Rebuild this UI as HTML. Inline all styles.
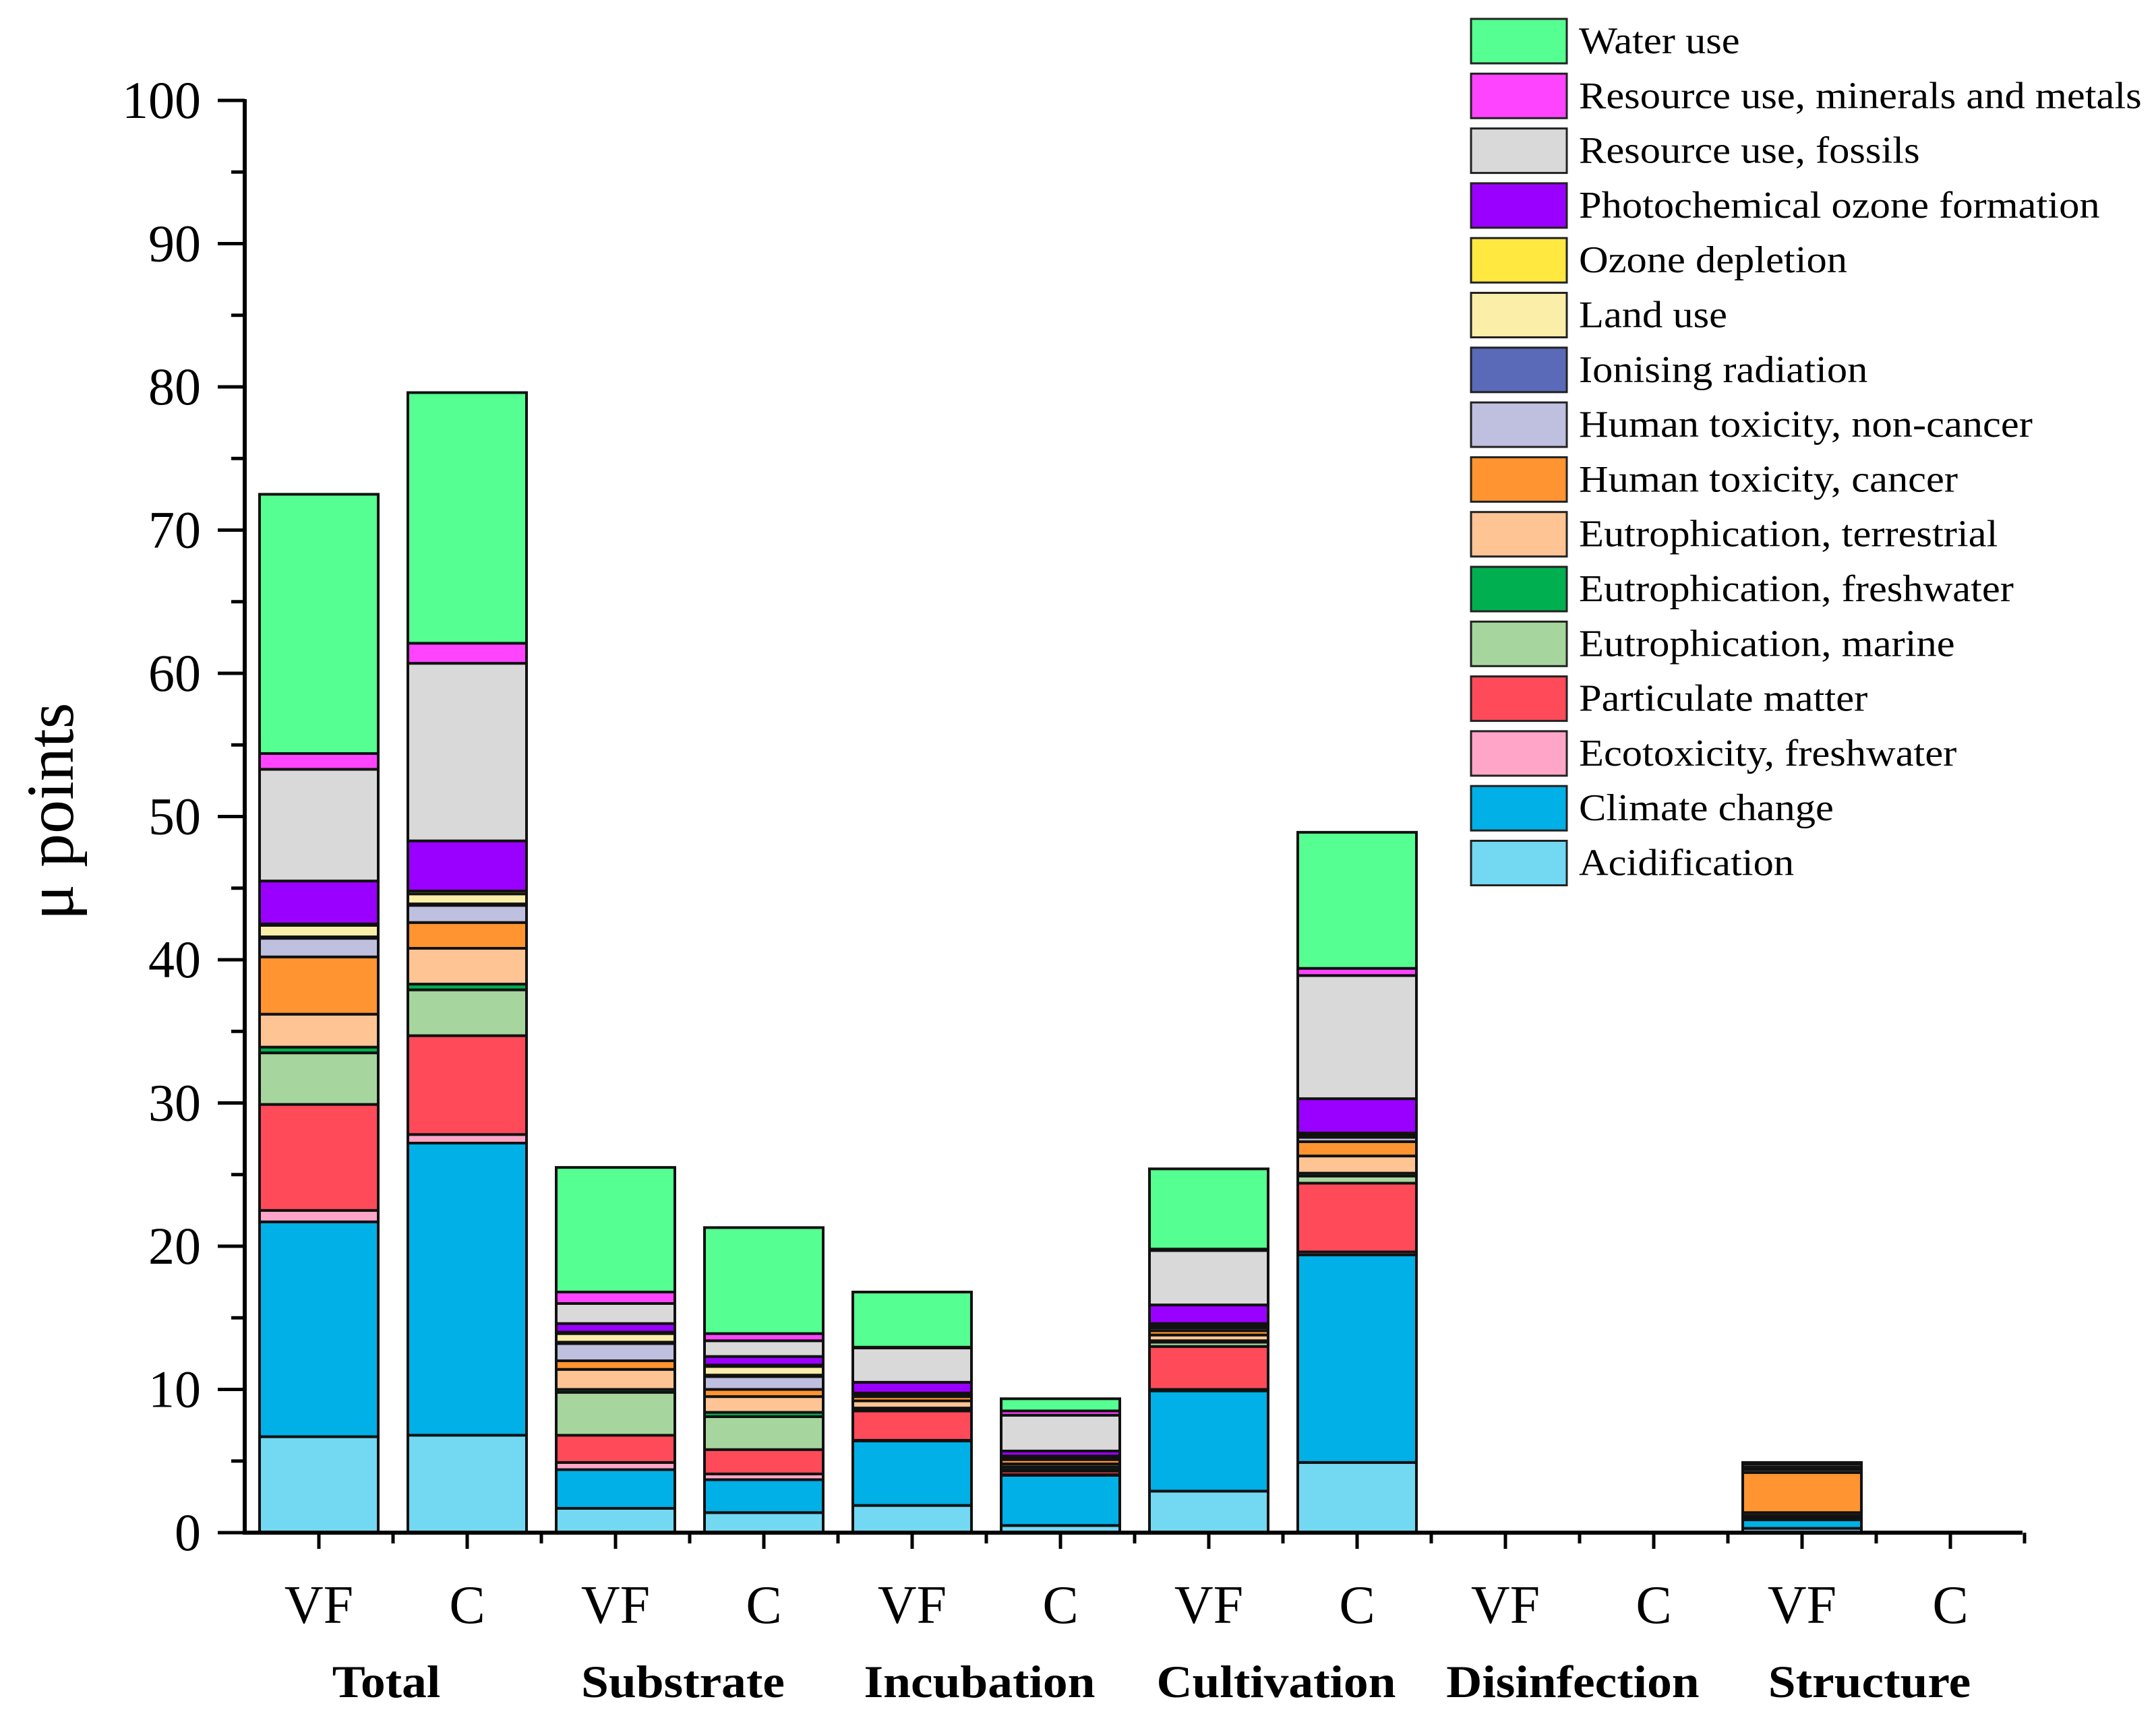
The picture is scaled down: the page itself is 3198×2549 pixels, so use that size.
<!DOCTYPE html>
<html><head><meta charset="utf-8"><style>
html,body{margin:0;padding:0;background:#fff}
svg{display:block;font-family:"Liberation Serif",serif}
</style></head><body>
<svg id="chart" width="3198" height="2549" viewBox="0 0 3198 2549" xmlns="http://www.w3.org/2000/svg">
<g id="bars"></g>
<g id="axes"></g>
<g id="legend"></g>
<text transform="translate(108,1204) rotate(-90)" text-anchor="middle" font-size="100">μ points</text>
</svg>
<script>
const barLabels = ["VF","C","VF","C","VF","C","VF","C","VF","C","VF","C"];
const groupLabels = ["Total","Substrate","Incubation","Cultivation","Disinfection","Structure"];
const yTicks = [0,10,20,30,40,50,60,70,80,90,100];
const seriesNames = ["Acidification","Climate change","Ecotoxicity, freshwater","Particulate matter","Eutrophication, marine","Eutrophication, freshwater","Eutrophication, terrestrial","Human toxicity, cancer","Human toxicity, non-cancer","Ionising radiation","Land use","Ozone depletion","Photochemical ozone formation","Resource use, fossils","Resource use, minerals and metals","Water use"];
const acidification = [6.7,6.8,1.7,1.4,1.9,0.5,2.9,4.9,0,0,0.3,0];
const climateChange = [15.0,20.4,2.7,2.3,4.5,3.5,7.0,14.5,0,0,0.6,0];
const ecotoxicity = [0.8,0.6,0.5,0.4,0.05,0.05,0.1,0.2,0,0,0.05,0];
const particulate = [7.4,6.9,1.9,1.7,2.05,0.25,3.0,4.8,0,0,0.15,0];
const eutroMarine = [3.6,3.2,3.0,2.3,0.1,0.1,0.3,0.5,0,0,0.05,0];
const eutroFresh = [0.4,0.4,0.2,0.3,0.1,0.2,0.1,0.2,0,0,0.05,0];
const eutroTerrestrial = [2.3,2.5,1.4,1.1,0.5,0.2,0.4,1.2,0,0,0.2,0];
const humanCancer = [4.0,1.8,0.6,0.5,0.3,0.3,0.3,1.0,0,0,2.8,0];
const humanNonCancer = [1.3,1.2,1.2,0.9,0.1,0.1,0.2,0.3,0,0,0.2,0];
const ionising = [0.1,0.1,0.1,0.1,0.05,0.05,0.1,0.1,0,0,0.05,0];
const landUse = [0.8,0.7,0.6,0.6,0.05,0.05,0.1,0.1,0,0,0.05,0];
const ozoneDepletion = [0.1,0.2,0.1,0.1,0.05,0.05,0.1,0.1,0,0,0.05,0];
const photochemical = [3.0,3.5,0.6,0.6,0.75,0.35,1.3,2.4,0,0,0.05,0];
const resourceFossils = [7.8,12.4,1.4,1.1,2.4,2.5,3.8,8.6,0,0,0.2,0];
const resourceMinerals = [1.1,1.4,0.8,0.5,0.05,0.3,0.1,0.5,0,0,0.05,0];
const waterUse = [18.1,17.5,8.7,7.4,3.85,0.85,5.6,9.5,0,0,0.05,0];
const series = [acidification,climateChange,ecotoxicity,particulate,eutroMarine,eutroFresh,eutroTerrestrial,humanCancer,humanNonCancer,ionising,landUse,ozoneDepletion,photochemical,resourceFossils,resourceMinerals,waterUse];
const colors = ["#73d8f2","#00b0e6","#ffa6c8","#ff4a5a","#a6d69e","#00b050","#ffc494","#ff9430","#bfbfe0","#5a6ab8","#faeea8","#ffe840","#9900ff","#d9d9d9","#ff44ff","#55ff91"];

const NS="http://www.w3.org/2000/svg";
const X0=363, X1=3000, Y0=2274, Y100=149;
const yScale=v=>Y0-(v/100)*(Y0-Y100);
const step=220, firstC=473, barW=176;
const xC=i=>firstC+i*step;
function mk(tag,attrs,parent){const e=document.createElementNS(NS,tag);for(const k in attrs)e.setAttribute(k,attrs[k]);parent.appendChild(e);return e;}
function widen(t,f){const w=t.getComputedTextLength();t.setAttribute('textLength',w*f);t.setAttribute('lengthAdjust','spacingAndGlyphs');}
const gb=document.getElementById('bars'), ga=document.getElementById('axes'), gl=document.getElementById('legend');
const slugs=seriesNames.map(s=>s.toLowerCase().replace(/[^a-z]+/g,'-').replace(/-$/,''));
for(let i=0;i<barLabels.length;i++){
  let cum=0;
  for(let s=0;s<series.length;s++){
    const v=series[s][i]; if(!(v>0)) continue;
    const yt=yScale(cum+v), yb=yScale(cum);
    const r=mk('rect',{x:xC(i)-barW/2,y:yt,width:barW,height:yb-yt,fill:colors[s],stroke:'#111','stroke-width':4},gb);
    
    
    cum+=v;
  }
}
const yl=mk('line',{x1:X0,y1:Y0+2,x2:X0,y2:Y100-2,stroke:'#000','stroke-width':6},ga);
 
const xl=mk('line',{x1:X0-3,y1:Y0,x2:X1,y2:Y0,stroke:'#000','stroke-width':6},ga);
 
for(let v=0;v<=100;v+=5){
  const maj=v%10===0;
  const t=mk('line',{x1:X0-(maj?40:20),y1:yScale(v),x2:X0,y2:yScale(v),stroke:'#000','stroke-width':5},ga);
   
}
yTicks.forEach(v=>{
  const t=mk('text',{x:298,y:yScale(v)+26,'text-anchor':'end','font-size':78},ga);
  t.textContent=v;
   
});
for(let i=0;i<barLabels.length;i++){
  const t=mk('line',{x1:xC(i),y1:Y0,x2:xC(i),y2:Y0+24,stroke:'#000','stroke-width':5},ga);
   
  const m=mk('line',{x1:xC(i)+step/2,y1:Y0,x2:xC(i)+step/2,y2:Y0+16,stroke:'#000','stroke-width':5},ga);
   
  const l=mk('text',{x:xC(i),y:2408,'text-anchor':'middle','font-size':80},ga);
  l.textContent=barLabels[i];
   
}
groupLabels.forEach((g,k)=>{
  const t=mk('text',{x:(xC(2*k)+xC(2*k+1))/2-10,y:2518,'text-anchor':'middle','font-size':68,'font-weight':'bold'},ga);
  t.textContent=g;
   
  widen(t,1.08);
});
for(let j=0;j<seriesNames.length;j++){
  const s=seriesNames.length-1-j;
  const y=28+j*81.3;
  const r=mk('rect',{x:2182,y:y,width:142,height:66,fill:colors[s],stroke:'#222','stroke-width':3},gl);
   
  const t=mk('text',{x:2342,y:y+51,'font-size':56},gl);
  t.textContent=seriesNames[s];
   
  widen(t,1.08);
}
</script>
</body></html>
